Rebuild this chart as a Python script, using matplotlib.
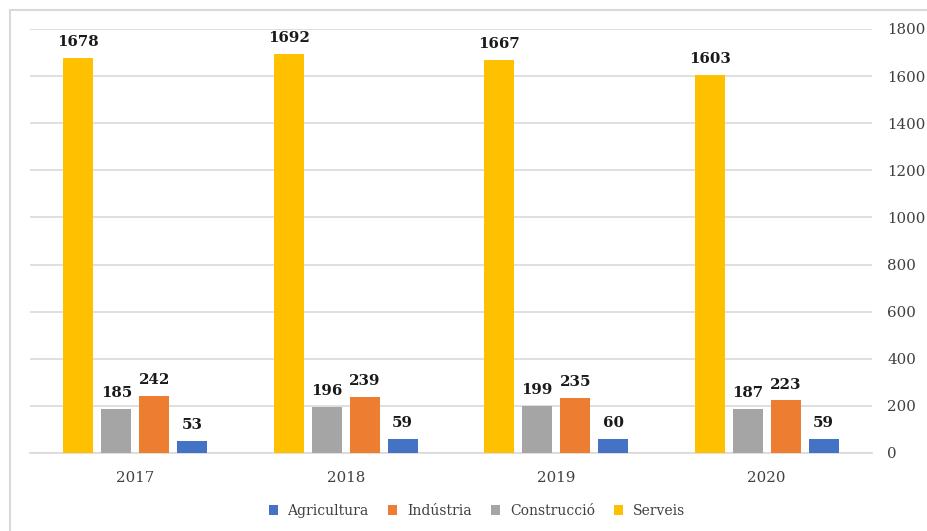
import matplotlib
matplotlib.use("Agg")
import matplotlib.pyplot as plt
import numpy as np
from matplotlib.lines import Line2D

years = ["2017", "2018", "2019", "2020"]
serveis = [1678, 1692, 1667, 1603]
construccio = [185, 196, 199, 187]
industria = [242, 239, 235, 223]
agricultura = [53, 59, 60, 59]
yticks = [0, 200, 400, 600, 800, 1000, 1200, 1400, 1600, 1800]

plt.rcParams['font.family'] = ['DejaVu Serif']

fig = plt.figure(figsize=(9.27, 5.31), dpi=100)
ax = fig.add_axes([30/927, 1-453/531, 842/927, (453-29)/531])

x = np.arange(len(years))
w = 0.1425
step = 0.18
series = [
    ("Serveis", serveis, "#FFC000"),
    ("Construcció", construccio, "#A5A5A5"),
    ("Indústria", industria, "#ED7D31"),
    ("Agricultura", agricultura, "#4472C4"),
]
handles = {}
for i, (name, vals, col) in enumerate(series):
    off = (i - 1.5) * step
    b = ax.bar(x + off, vals, w, color=col, label=name, zorder=3)
    handles[name] = b
    for xi, v in zip(x + off, vals):
        ax.text(xi, v + 38, str(v), ha="center", va="bottom",
                fontsize=10.8, fontweight="bold", color="#1a1a1a")

ax.set_xlim(-0.5, 3.5)
ax.set_ylim(0, 1800)
ax.set_yticks(yticks)
ax.yaxis.tick_right()
ax.set_xticks(x)
ax.set_xticklabels(years)
ax.tick_params(axis="both", length=0, labelsize=10.8, colors="#404040")
ax.tick_params(axis="y", pad=11)
ax.tick_params(axis="x", pad=13)
ax.grid(axis="y", color="#D9D9D9", linewidth=1.2, zorder=0)
for s in ["top", "right", "left"]:
    ax.spines[s].set_visible(False)
ax.spines["bottom"].set_color("#D9D9D9")
ax.spines["bottom"].set_linewidth(1.2)

order = ["Agricultura", "Indústria", "Construcció", "Serveis"]
leg = fig.legend([handles[n] for n in order], order, loc="center",
                 bbox_to_anchor=(477/927, 1-511/531), ncol=4, frameon=False,
                 fontsize=10, handlelength=0.65, handleheight=0.65,
                 columnspacing=1.4, handletextpad=0.7)
for t in leg.get_texts():
    t.set_color("#404040")

# outer border (top and left visible)
fig.add_artist(Line2D([10/927, 1.0], [1-10/531, 1-10/531], transform=fig.transFigure,
                      color="#D9D9D9", linewidth=1.5))
fig.add_artist(Line2D([10/927, 10/927], [0, 1-10/531], transform=fig.transFigure,
                      color="#D9D9D9", linewidth=1.5))

fig.savefig("out.png", dpi=100)
